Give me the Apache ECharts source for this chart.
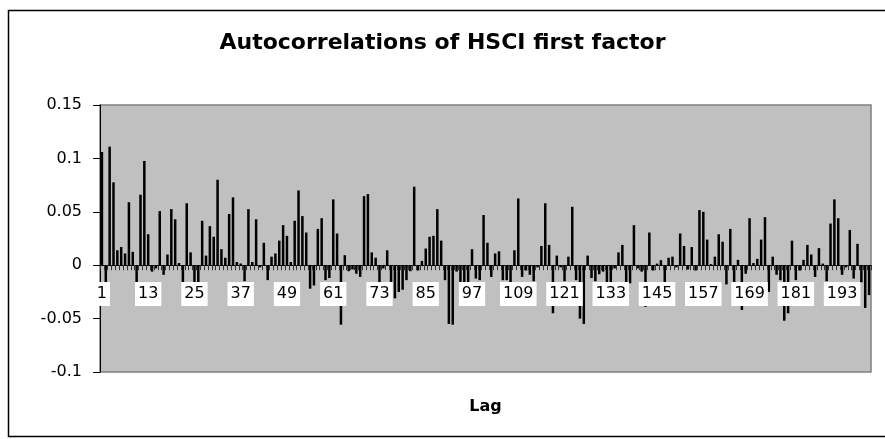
<!DOCTYPE html>
<html>
<head>
<meta charset="utf-8">
<script src="https://cdn.jsdelivr.net/npm/echarts@6/dist/echarts.min.js"></script>
<style>
  html, body { margin: 0; padding: 0; background: #fff; }
  #chart { width: 885px; height: 439px; }
</style>
</head>
<body>
<div id="chart"></div>
<script>
// autocorrelation at each lag
const acf = [
  0.106, -0.016, 0.111, 0.0776, 0.014, 0.017, 0.011, 0.059, 0.0125, -0.03,
  0.066, 0.0976, 0.029, -0.006, -0.003, 0.0507, -0.009, 0.010, 0.0525, 0.043,
  0.002, -0.016, 0.058, 0.012, -0.016, -0.016, 0.0416, 0.009, 0.0366, 0.0266,
  0.080, 0.015, 0.007, 0.048, 0.0635, 0.003, 0.0016, -0.015, 0.0525, 0.003,
  0.043, -0.002, 0.021, -0.014, 0.008, 0.011, 0.023, 0.0375, 0.0275, 0.003,
  0.0416, 0.070, 0.046, 0.0306, -0.022, -0.019, 0.034, 0.044, -0.014, -0.012,
  0.0616, 0.0297, -0.0557, 0.0094, -0.0056, -0.004, -0.008, -0.011, 0.0647, 0.0666,
  0.012, 0.007, -0.016, -0.003, 0.014, -0.016, -0.031, -0.025, -0.023, -0.014,
  -0.0056, 0.0735, -0.005, 0.004, 0.0156, 0.0266, 0.0275, 0.0525, 0.023, -0.014,
  -0.055, -0.0557, -0.006, -0.016, -0.016, -0.016, 0.015, -0.0125, -0.014, 0.047,
  0.021, -0.011, 0.011, 0.013, -0.014, -0.014, -0.016, 0.014, 0.0625, -0.011,
  -0.005, -0.009, -0.015, -0.002, 0.018, 0.058, 0.019, -0.045, 0.009, -0.002,
  -0.015, 0.008, 0.0547, -0.014, -0.05, -0.055, 0.009, -0.012, -0.015, -0.0085,
  -0.006, -0.016, -0.016, -0.003, 0.012, 0.019, -0.016, -0.017, 0.0375, -0.003,
  -0.006, -0.039, 0.0306, -0.005, 0.0015, 0.0047, -0.016, 0.007, 0.008, -0.002,
  0.0297, 0.018, -0.004, 0.017, -0.005, 0.0516, 0.050, 0.024, 0.001, 0.008,
  0.029, 0.022, -0.018, 0.034, -0.016, 0.005, -0.042, -0.008, 0.044, 0.002,
  0.006, 0.024, 0.045, -0.025, 0.008, -0.009, -0.014, -0.052, -0.045, 0.023,
  -0.014, -0.005, 0.005, 0.019, 0.010, -0.011, 0.016, 0.0015, -0.015, 0.039,
  0.0616, 0.044, -0.009, -0.002, 0.033, -0.0125, 0.020, -0.016, -0.040, -0.028
];
const lags = acf.map((v, i) => String(i + 1));

const chart = echarts.init(document.getElementById('chart'));
const FONT = 'DejaVu Sans';

chart.setOption({
  animation: false,
  backgroundColor: '#fff',
  title: {
    text: 'Autocorrelations of HSCI first factor',
    left: 'center',
    top: 27,
    textStyle: { fontFamily: FONT, fontSize: 22, fontWeight: 'bold', color: '#000' }
  },
  graphic: [{
    type: 'rect',
    shape: { x: 8.5, y: 10.5, width: 900, height: 426 },
    style: { fill: 'none', stroke: '#000', lineWidth: 1.5 },
    silent: true
  }],
  grid: {
    left: 100, right: 14, top: 105, bottom: 67,
    outerBoundsMode: 'none',
    containLabel: false,
    show: true,
    backgroundColor: '#c0c0c0',
    borderColor: '#808080',
    borderWidth: 1.5
  },
  xAxis: {
    type: 'category',
    data: lags,
    z: 5,
    name: 'Lag',
    nameLocation: 'middle',
    nameGap: 27,
    nameTextStyle: { fontFamily: FONT, fontSize: 16, fontWeight: 'bold', color: '#000', verticalAlign: 'top' },
    axisLine: { onZero: true, lineStyle: { color: '#000', width: 1 } },
    axisTick: { show: true, interval: 0, length: 5, lineStyle: { color: '#333' } },
    axisLabel: {
      interval: 11,
      margin: -90,
      fontFamily: FONT,
      fontSize: 16,
      color: '#000',
      backgroundColor: '#fff',
      padding: [2, 3],
      lineHeight: 20
    },
    splitLine: { show: false }
  },
  yAxis: {
    type: 'value',
    min: -0.1,
    max: 0.15,
    interval: 0.05,
    axisLine: { show: true, lineStyle: { color: '#000' } },
    axisTick: { show: true, length: 7, lineStyle: { color: '#000' } },
    axisLabel: {
      margin: 18,
      fontFamily: FONT,
      fontSize: 16,
      color: '#000',
      formatter: v => String(Math.round(v * 100) / 100)
    },
    splitLine: { show: false }
  },
  series: [{
    type: 'bar',
    data: acf,
    barCategoryGap: '35%',
    itemStyle: { color: '#000' }
  }]
});
</script>
</body>
</html>
